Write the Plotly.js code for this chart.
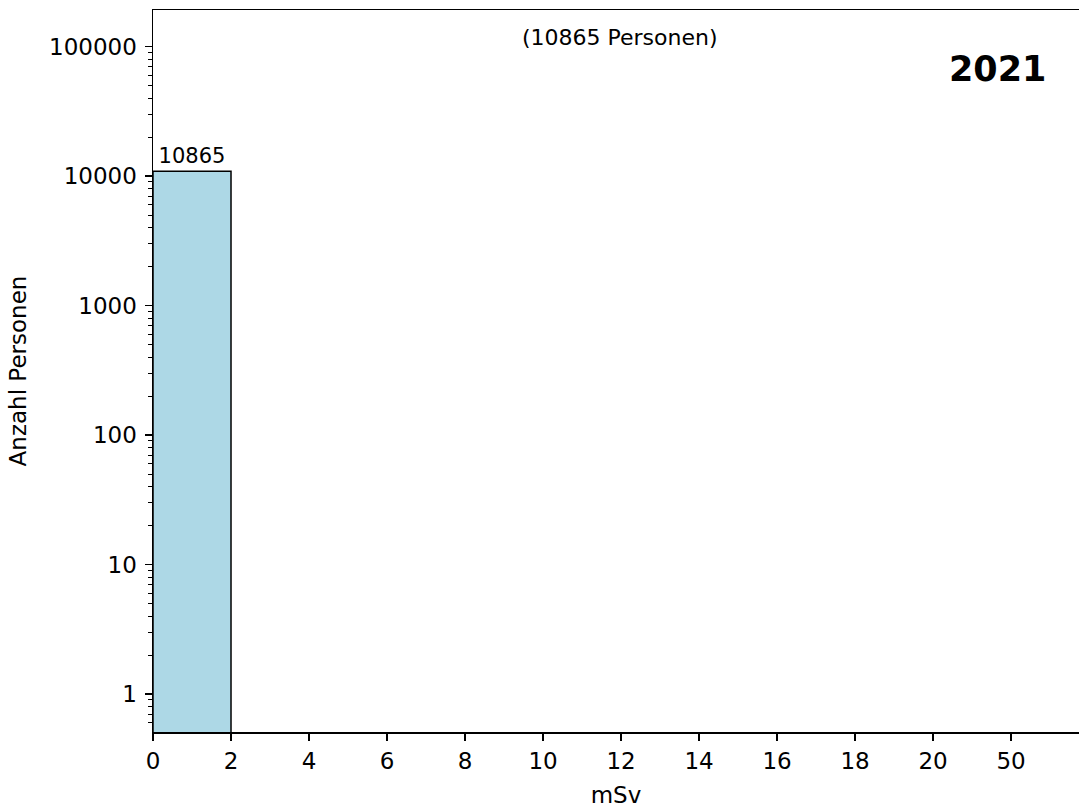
<!DOCTYPE html>
<html>
<head>
<meta charset="utf-8">
<script src="https://cdn.plot.ly/plotly-3.0.1.min.js"></script>
<style>html,body{margin:0;padding:0;background:#fff;}#chart{width:1079px;height:810px;}</style>
</head>
<body>
<div id="chart"></div>
<script>
// Data
const binLabels = ['0','2','4','6','8','10','12','14','16','18','20','50'];
const binCenters = [1,3,5,7,9,11,13,15,17,19,21];
const counts = [10865,0,0,0,0,0,0,0,0,0,0];
const totalPersons = 10865;
const yearLabel = '2021';
const yTickVals = [1,10,100,1000,10000,100000];
const yTickText = ['1','10','100','1000','10000','100000'];

const tickPos = binLabels.map((_, i) => i * 2);
const minorVals = [];
for (let e = -1; e <= 5; e++) {
  for (let d = 2; d <= 9; d++) minorVals.push(d * Math.pow(10, e));
}

const barText = counts.map(v => v > 0 ? String(v) : '');

const trace = {
  type: 'bar',
  x: binCenters,
  y: counts,
  width: 2,
  marker: {color: '#ADD8E6', line: {color: '#000', width: 1.5}},
  text: barText,
  textposition: 'outside',
  cliponaxis: false,
  textfont: {family: 'DejaVu Sans', size: 21, color: '#000'},
  hoverinfo: 'x+y'
};

const layout = {
  width: 1079, height: 810,
  margin: {l: 153, r: 0, t: 10, b: 78},
  paper_bgcolor: '#fff', plot_bgcolor: '#fff',
  showlegend: false,
  font: {family: 'DejaVu Sans', color: '#000'},
  bargap: 0,
  xaxis: {
    range: [0, 23.74],
    tickmode: 'array', tickvals: tickPos, ticktext: binLabels,
    ticks: 'outside', ticklen: 7, tickwidth: 1.3, tickcolor: '#000',
    tickfont: {size: 23, family: 'DejaVu Sans'},
    ticklabelstandoff: 1,
    showline: true, linecolor: '#000', linewidth: 1.5, mirror: true,
    showgrid: false, zeroline: false,
    title: {text: 'mSv', font: {size: 23, family: 'DejaVu Sans'}, standoff: 14}
  },
  yaxis: {
    type: 'log',
    range: [-0.293, 5.282],
    tickmode: 'array', tickvals: yTickVals, ticktext: yTickText,
    ticks: 'outside', ticklen: 7, tickwidth: 1.3, tickcolor: '#000',
    tickfont: {size: 23, family: 'DejaVu Sans'},
    ticklabelstandoff: 3,
    minor: {tickmode: 'array', tickvals: minorVals, ticks: 'outside', ticklen: 4, tickwidth: 1, tickcolor: '#000', showgrid: false},
    showline: true, linecolor: '#000', linewidth: 1.5, mirror: false,
    showgrid: false, zeroline: false,
    title: {text: 'Anzahl Personen', font: {size: 23, family: 'DejaVu Sans'}, standoff: 16}
  },
  annotations: [
    {text: '(' + totalPersons + ' Personen)', xref: 'paper', yref: 'paper', x: 0.504, y: 0.962, xanchor: 'center', yanchor: 'middle', showarrow: false, font: {size: 22, family: 'DejaVu Sans', color: '#000'}},
    {text: '<b>' + yearLabel + '</b>', xref: 'paper', yref: 'paper', x: 0.966, y: 0.918, xanchor: 'right', yanchor: 'middle', showarrow: false, font: {size: 35, family: 'DejaVu Sans', color: '#000'}}
  ]
};

Plotly.newPlot('chart', [trace], layout, {displayModeBar: false, staticPlot: true});
</script>
</body>
</html>
